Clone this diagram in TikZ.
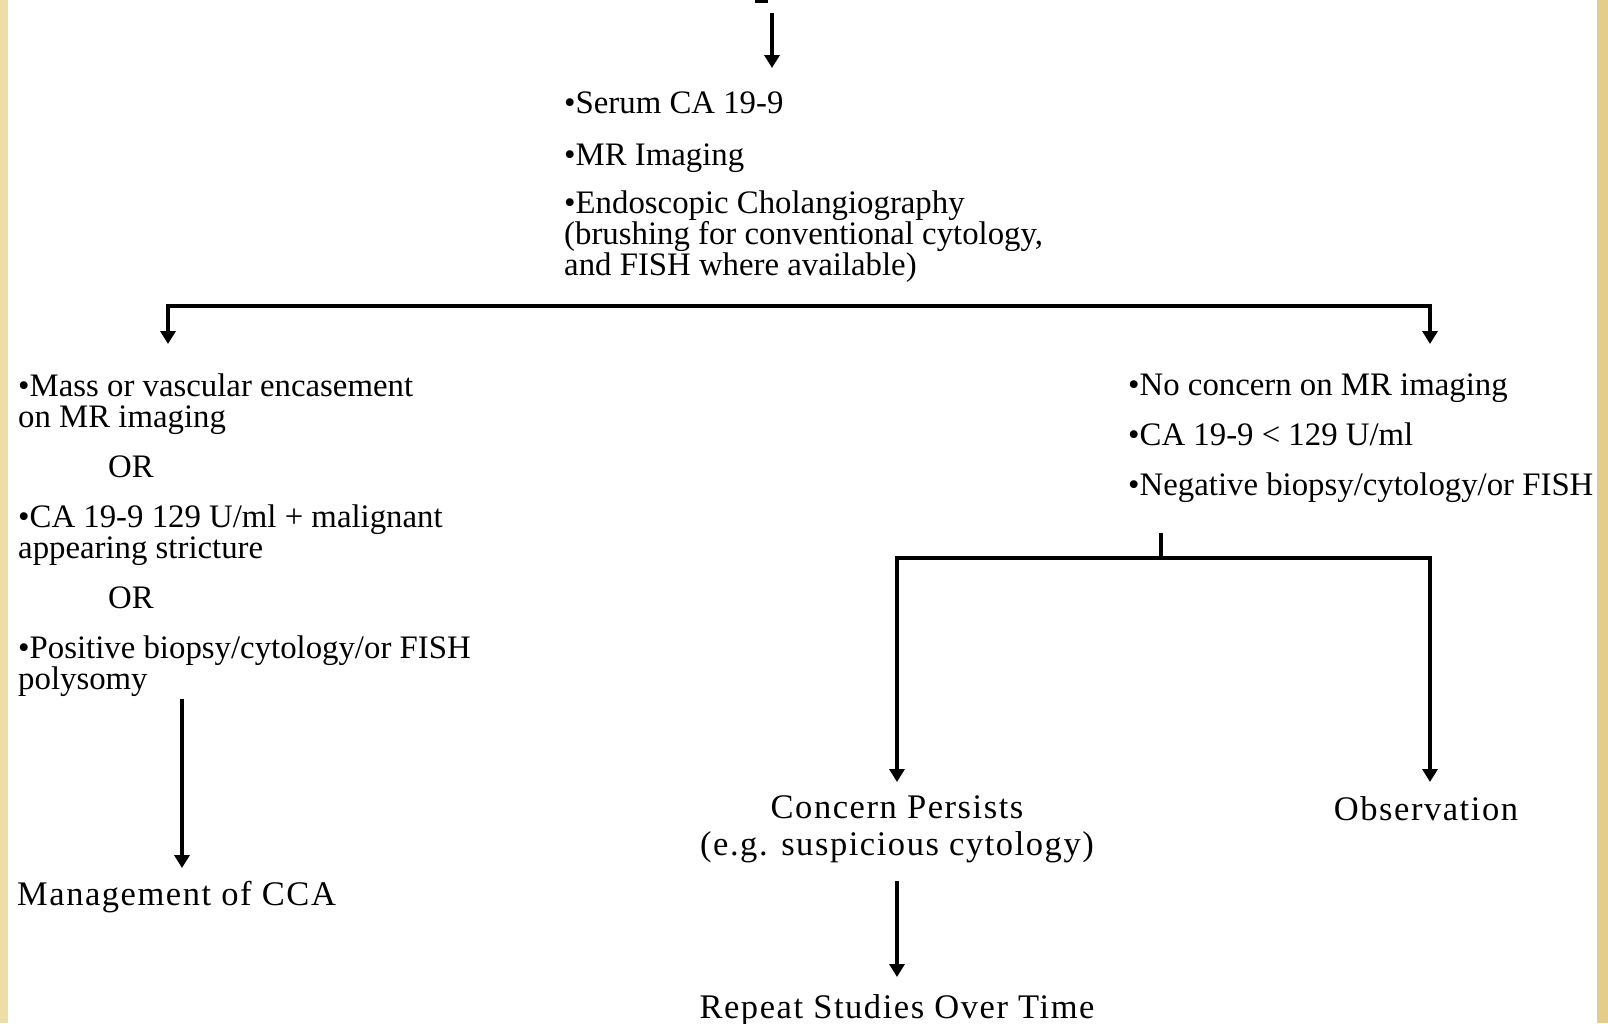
\documentclass[tikz,border=0pt]{standalone}
\usepackage{fontspec}
\setmainfont{Liberation Serif}
\usetikzlibrary{arrows.meta}
\definecolor{goldL}{RGB}{238,221,168}
\definecolor{goldR}{RGB}{228,204,138}
\begin{document}
\begin{tikzpicture}[x=1pt,y=-1pt,
  txt/.style={anchor=base west, inner sep=0pt, font=\fontsize{32.8}{31}\selectfont, align=left},
  big/.style={anchor=base, inner sep=0pt, font=\fontsize{34.5}{34}\selectfont\addfontfeatures{LetterSpace=4.5}, align=center},
  conn/.style={line width=4.3pt},
  tip/.style={-{Triangle[width=15pt,length=13pt]}},
  arr/.style={conn, tip},
  both/.style={conn, {Triangle[width=15pt,length=13pt]}-{Triangle[width=15pt,length=13pt]}}]
\useasboundingbox (0,0) rectangle (1608,1023);
\fill[white] (0,0) rectangle (1608,1023);
\fill[goldL] (0,0) rectangle (8,1023);
\fill[goldR] (1597,0) rectangle (1608,1023);
% cropped fragment at top
\fill (755,0) rectangle (768,3);

% top tests (base anchor = baseline of last line)
\node[txt] (t1) at (564,113) {•Serum CA 19-9};
\node[txt] (t2) at (564,165) {•MR Imaging};
\node[txt] (t3) at (564,275) {•Endoscopic Cholangiography\\(brushing for conventional cytology,\\and FISH where available)};

% left branch
\node[txt] (l1) at (18,427) {•Mass or vascular encasement\\on MR imaging};
\node[txt] (or1) at (108,477) {OR};
\node[txt] (l2) at (18,558) {•CA 19-9 129 U/ml + malignant\\appearing stricture};
\node[txt] (or2) at (108,608) {OR};
\node[txt] (l3) at (18,689) {•Positive biopsy/cytology/or FISH\\polysomy};

% right branch
\node[txt] (r1) at (1128,395) {•No concern on MR imaging};
\node[txt] (r2) at (1128,445) {•CA 19-9 < 129 U/ml};
\node[txt] (r3) at (1128,495) {•Negative biopsy/cytology/or FISH};

% outcomes
\node[big, anchor=base west] (mg) at (17,905) {Management of CCA};
\node[big] (cp) at (897,855) {Concern Persists\\[3pt](e.g. suspicious cytology)};
\node[big] (ob) at (1426,820) {Observation};
\node[big] (rs) at (897,1018) {Repeat Studies Over Time};

% connector points
\coordinate (topin) at (772,13);
\coordinate (topout) at (772,68);
\coordinate (bl) at (168,344);
\coordinate (br) at (1430,344);
\coordinate (lfrom) at (182,699);
\coordinate (lto) at (182,868);
\coordinate (stubtop) at (1161,533);
\coordinate (stubbot) at (1161,558);
\coordinate (cpin) at (897,782);
\coordinate (obin) at (1430,782);
\coordinate (cpout) at (897,881);
\coordinate (rsin) at (897,977);

\draw[arr] (topin) -- (topout);
\draw[both] (bl) -- (bl |- 0,306) -- (br |- 0,306) -- (br);
\draw[arr] (lfrom) -- (lto);
\draw[conn] (stubtop) -- (stubbot);
\draw[both] (cpin) -- (cpin |- stubbot) -- (obin |- stubbot) -- (obin);
\draw[arr] (cpout) -- (rsin);
\end{tikzpicture}
\end{document}
